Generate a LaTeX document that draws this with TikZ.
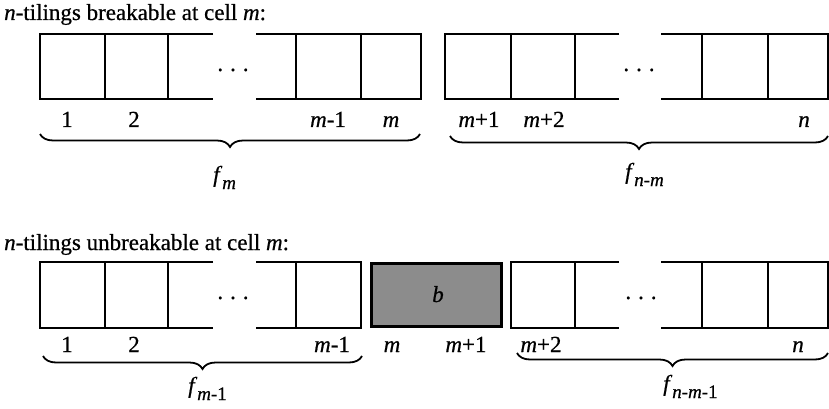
\documentclass[tikz,border=0pt]{standalone}
\usepackage{fontspec}
\setmainfont{Liberation Serif}[FakeBold=0.6]
\usetikzlibrary{decorations.pathreplacing}
\newcommand{\fsub}[1]{\textit{f}\raisebox{-7pt}{\fontsize{19}{20}\selectfont #1}}
\begin{document}
\begin{tikzpicture}[x=1pt,y=-1pt,
  cellline/.style={line width=2.8pt, line join=miter},
  txt/.style={font=\fontsize{23}{26}\selectfont, inner sep=0pt},
  lbl/.style={txt, anchor=base},
  ttl/.style={txt, anchor=base west},
  dotsnode/.style={txt, anchor=base},
  brc/.style={decorate, decoration={brace, amplitude=13pt, mirror}, line width=1.8pt},
  shaded/.style={draw, line width=3.6pt, fill=black!45, minimum width=130pt, minimum height=63pt, inner sep=0pt}]
\useasboundingbox (0,0) rectangle (829,409);

% ---------- top: breakable ----------
\node[ttl] (t1) at (4,20) {\textit{n}-tilings breakable at cell \textit{m}:};

\draw[cellline] (213,34) -- (40,34) -- (40,99) -- (213,99);
\draw[cellline] (105,34) -- (105,99) (168,34) -- (168,99);
\draw[cellline] (256,34) -- (421,34) -- (421,99) -- (256,99);
\draw[cellline] (296,34) -- (296,99) (361,34) -- (361,99);
\draw[cellline] (619,34) -- (445,34) -- (445,99) -- (619,99);
\draw[cellline] (511,34) -- (511,99) (575,34) -- (575,99);
\draw[cellline] (661,34) -- (828,34) -- (828,99) -- (661,99);
\draw[cellline] (702,34) -- (702,99) (768,34) -- (768,99);

\node[dotsnode] (d1) at (233,71) {.\hspace{7pt}.\hspace{7pt}.};
\node[dotsnode] (d2) at (639,71) {.\hspace{7pt}.\hspace{7pt}.};

\node[lbl] (a1) at (67,127) {1};
\node[lbl] (a2) at (134,127) {2};
\node[lbl] (a3) at (328,127) {\textit{m}-1};
\node[lbl] (a4) at (391,127) {\textit{m}};
\node[lbl] (a5) at (479,127) {\textit{m}+1};
\node[lbl] (a6) at (544,127) {\textit{m}+2};
\node[lbl] (a7) at (804,127) {\textit{n}};

\coordinate (b1s) at (40,134);
\coordinate (b1e) at (420,134);
\coordinate (b2s) at (450,136);
\coordinate (b2e) at (828,136);
\draw[brc] (b1s) -- (b1e);
\draw[brc] (b2s) -- (b2e);
\node[ttl] (f1) at (213,182) {\fsub{\textit{m}}};
\node[ttl] (f2) at (625,179) {\fsub{\textit{n}-\textit{m}}};

% ---------- bottom: unbreakable ----------
\node[ttl] (t2) at (4,250) {\textit{n}-tilings unbreakable at cell \textit{m}:};

\draw[cellline] (213,262) -- (40,262) -- (40,328) -- (213,328);
\draw[cellline] (105,262) -- (105,328) (168,262) -- (168,328);
\draw[cellline] (256,262) -- (361,262) -- (361,328) -- (256,328);
\draw[cellline] (296,262) -- (296,328);
\node[shaded] (sb) at (436.5,295) {};
\node[txt, anchor=base] (bb) at (438,302) {\textit{b}};
\draw[cellline] (619,262) -- (511,262) -- (511,328) -- (619,328);
\draw[cellline] (575,262) -- (575,328);
\draw[cellline] (661,262) -- (828,262) -- (828,328) -- (661,328);
\draw[cellline] (702,262) -- (702,328) (768,262) -- (768,328);

\node[dotsnode] (d3) at (233,299) {.\hspace{7pt}.\hspace{7pt}.};
\node[dotsnode] (d4) at (641,299) {.\hspace{7pt}.\hspace{7pt}.};

\node[lbl] (c1) at (67,352) {1};
\node[lbl] (c2) at (134,352) {2};
\node[lbl] (c3) at (332,352) {\textit{m}-1};
\node[lbl] (c4) at (392,352) {\textit{m}};
\node[lbl] (c5) at (466,352) {\textit{m}+1};
\node[lbl] (c6) at (541,352) {\textit{m}+2};
\node[lbl] (c7) at (798,352) {\textit{n}};

\coordinate (b3s) at (43,356);
\coordinate (b3e) at (362,356);
\coordinate (b4s) at (517,353);
\coordinate (b4e) at (828,353);
\draw[brc] (b3s) -- (b3e);
\draw[brc] (b4s) -- (b4e);
\node[ttl] (f3) at (188,393) {\fsub{\textit{m}-1}};
\node[ttl] (f4) at (663,391) {\fsub{\textit{n}-\textit{m}-1}};
\end{tikzpicture}
\end{document}
